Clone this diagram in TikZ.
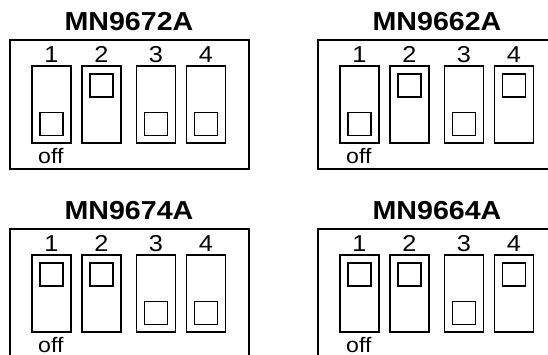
\documentclass[tikz,border=0pt]{standalone}
\usepackage{fontspec}
\setmainfont{Liberation Sans}
\newfontfamily\widesans[FakeStretch=1.1]{Liberation Sans}
\usetikzlibrary{positioning}

\begin{document}
\begin{tikzpicture}[x=1pt, y=-1pt]

	\tikzstyle{panel}=[draw, line width=1.8pt, minimum width=239pt, minimum height=129pt, anchor=north west, inner sep=0pt]
	\tikzstyle{chipname}=[font=\widesans\bfseries\fontsize{26}{26}\selectfont]
	\tikzstyle{slot}=[draw, line width=1.8pt, minimum width=39pt, minimum height=77pt, inner sep=0pt]
	\tikzstyle{knob}=[draw, line width=1.6pt, minimum size=23pt, inner sep=0pt]
	\tikzstyle{num}=[font=\widesans\fontsize{23}{23}\selectfont, inner sep=0pt, anchor=base]

	\useasboundingbox (0,0) rectangle (548,354);
	\clip (0,0) rectangle (548,354);

	% one panel per chip: name / shift / switch positions (1 = up)
	\foreach \chip/\px/\py/\a/\b/\c/\d in {9672/9/39/0/1/0/0, 9662/317/39/0/1/0/1, 9674/9/228/1/1/0/0, 9664/317/228/1/1/0/1}{
	\begin{scope}[shift={(\px,\py)}]
	\node[panel] (box\chip) at (0,0) {};
	\node[chipname] (name\chip) at (120,-17) {MN\chip A};

	\foreach \i/\x/\s in {1/42.5/\a, 2/92.5/\b, 3/147/\c, 4/197/\d}{
		\node[slot] (sw\chip-\i) at (\x,65.5) {};
		\node[num] (num\chip-\i) at (\x,23) {\i};
		\node[knob] (knob\chip-\i) at (\x,{85-38.5*\s}) {};
	}

	\node[num, anchor=base west, font=\widesans\fontsize{21}{21}\selectfont] (off\chip) at (29,124) {off};
	\end{scope}
	}

\end{tikzpicture}
\end{document}
